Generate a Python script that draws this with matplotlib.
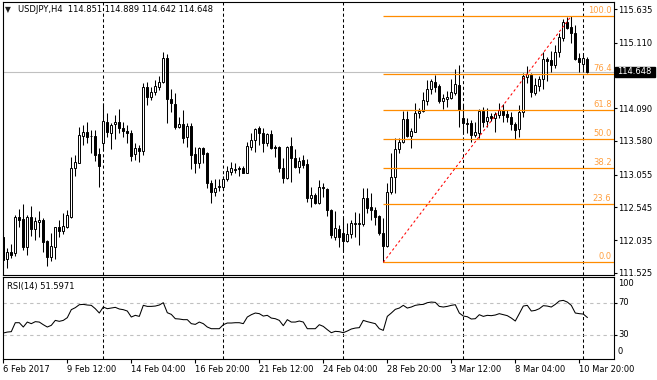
"""USDJPY H4 candles with a Fibonacci retracement and RSI(14) sub-window,
drawn in the MetaTrader 4 look."""
import matplotlib
matplotlib.use("Agg")
import matplotlib.pyplot as plt
from matplotlib.patches import Rectangle

W, H = 657, 380

# --- data (one entry per H4 bar, 6 Feb 20:00 .. 13 Mar 04:00) ---
opens = [
    112.090, 111.743, 111.847, 111.831, 112.392, 112.365, 111.934, 112.392, 112.205, 112.323,
    112.350, 112.023, 111.769, 111.934, 112.236, 112.183, 112.245, 112.401, 113.155, 113.242,
    113.662, 113.715, 113.662, 113.658, 113.377, 113.544, 113.880, 113.709, 113.840, 113.880,
    113.777, 113.735, 113.700, 113.373, 113.466, 113.424, 114.416, 114.260, 114.347, 114.425,
    114.503, 114.867, 114.229, 114.156, 113.802, 113.844, 113.637, 113.813, 113.377, 113.242,
    113.466, 113.388, 112.931, 112.790, 112.859, 112.868, 112.983, 113.102, 113.133, 113.164,
    113.164, 113.086, 113.491, 113.595, 113.777, 113.709, 113.544, 113.689, 113.486, 113.482,
    113.155, 112.999, 113.502, 113.310, 113.180, 113.284, 113.217, 112.697, 112.739, 112.610,
    112.868, 112.828, 112.505, 112.090, 112.210, 112.143, 112.028, 112.127, 112.288, 112.292,
    112.283, 112.697, 112.557, 112.505, 112.417, 112.143, 111.950, 112.781, 113.024, 113.455,
    113.560, 113.922, 113.662, 113.725, 114.011, 114.047, 114.207, 114.389, 114.503, 114.436,
    114.203, 114.238, 114.254, 114.322, 114.452, 113.933, 113.860, 113.855, 113.673, 113.700,
    114.047, 113.891, 113.969, 113.933, 113.985, 114.062, 113.995, 113.958, 113.840, 113.767,
    114.027, 114.581, 114.607, 114.322, 114.441, 114.545, 114.856, 114.841, 114.763, 114.961,
    115.188, 115.428, 115.359, 115.257, 114.877, 114.774, 114.851,
]
highs = [
    112.168, 111.909, 111.976, 112.428, 112.516, 112.599, 112.428, 112.568, 112.401, 112.495,
    112.376, 112.038, 112.152, 112.245, 112.350, 112.454, 112.505, 113.326, 113.362, 113.802,
    113.829, 113.880, 113.751, 113.751, 113.466, 114.176, 114.020, 113.855, 113.985, 114.073,
    113.880, 113.829, 113.751, 113.553, 113.517, 114.487, 114.503, 114.425, 114.529, 114.592,
    114.970, 114.934, 114.385, 114.322, 113.949, 114.062, 113.855, 113.855, 113.491, 113.491,
    113.491, 113.413, 112.973, 112.983, 112.983, 113.035, 113.191, 113.257, 113.233, 113.191,
    113.191, 113.569, 113.709, 113.777, 113.813, 113.777, 113.700, 113.751, 113.517, 113.502,
    113.310, 113.502, 113.647, 113.451, 113.335, 113.362, 113.299, 112.868, 112.766, 112.973,
    112.921, 112.843, 112.521, 112.490, 112.272, 112.376, 112.298, 112.350, 112.479, 112.454,
    112.853, 112.843, 112.766, 112.557, 112.428, 112.376, 112.921, 113.388, 113.622, 113.631,
    114.047, 114.047, 113.777, 114.167, 114.089, 114.338, 114.529, 114.545, 114.607, 114.463,
    114.307, 114.358, 114.545, 114.701, 114.763, 114.140, 113.933, 113.907, 113.880, 114.078,
    114.114, 114.089, 114.011, 114.036, 114.167, 114.151, 114.062, 114.027, 113.880, 114.140,
    114.634, 114.752, 114.634, 114.565, 114.596, 114.961, 114.892, 114.981, 115.074, 115.257,
    115.479, 115.510, 115.526, 115.386, 114.945, 114.919, 114.889,
]
lows = [
    111.623, 111.598, 111.763, 111.789, 112.245, 111.883, 111.805, 112.101, 112.038, 112.090,
    111.856, 111.638, 111.716, 111.738, 112.090, 112.132, 112.221, 112.381, 113.040, 113.233,
    113.517, 113.544, 113.388, 113.273, 112.868, 113.440, 113.647, 113.451, 113.611, 113.700,
    113.647, 113.553, 113.273, 113.284, 113.257, 113.362, 114.140, 114.218, 114.296, 114.374,
    114.487, 113.865, 114.036, 113.762, 113.777, 113.553, 113.482, 113.139, 113.086, 113.155,
    113.233, 112.843, 112.619, 112.723, 112.806, 112.817, 112.962, 113.050, 113.086, 113.035,
    113.077, 113.077, 113.440, 113.413, 113.517, 113.413, 113.502, 113.451, 113.335, 113.102,
    112.921, 112.983, 112.946, 113.155, 113.077, 113.155, 112.635, 112.557, 112.594, 112.594,
    112.713, 112.417, 112.065, 112.038, 111.934, 111.872, 112.003, 112.065, 112.090, 111.961,
    112.261, 112.454, 112.350, 112.272, 112.116, 111.691, 111.937, 112.750, 112.766, 113.388,
    113.544, 113.647, 113.475, 113.715, 113.933, 114.027, 114.140, 114.307, 114.347, 114.167,
    114.078, 114.114, 114.234, 114.296, 113.802, 113.725, 113.700, 113.560, 113.647, 113.622,
    113.802, 113.802, 113.891, 113.725, 113.933, 113.880, 113.880, 113.751, 113.611, 113.647,
    113.958, 114.478, 114.269, 114.296, 114.358, 114.389, 114.514, 114.659, 114.712, 114.892,
    115.137, 115.323, 115.101, 114.841, 114.659, 114.659, 114.642,
]
closes = [
    111.727, 111.847, 111.810, 112.401, 112.350, 111.934, 112.401, 112.205, 112.334, 112.350,
    112.012, 111.769, 111.945, 112.236, 112.179, 112.256, 112.428, 113.155, 113.248, 113.673,
    113.715, 113.647, 113.653, 113.362, 113.195, 113.891, 113.725, 113.829, 113.871, 113.777,
    113.740, 113.700, 113.351, 113.466, 113.424, 114.416, 114.260, 114.347, 114.436, 114.503,
    114.867, 114.229, 114.167, 113.793, 113.844, 113.631, 113.813, 113.362, 113.242, 113.466,
    113.377, 112.931, 112.790, 112.843, 112.874, 112.983, 113.113, 113.155, 113.144, 113.139,
    113.086, 113.502, 113.595, 113.762, 113.700, 113.553, 113.689, 113.466, 113.471, 113.155,
    112.999, 113.482, 113.310, 113.180, 113.268, 113.206, 112.697, 112.739, 112.610, 112.868,
    112.843, 112.505, 112.116, 112.221, 112.090, 112.028, 112.127, 112.298, 112.303, 112.303,
    112.697, 112.541, 112.505, 112.401, 112.143, 111.950, 112.781, 113.024, 113.455, 113.569,
    113.922, 113.662, 113.735, 114.011, 114.047, 114.218, 114.389, 114.514, 114.425, 114.203,
    114.245, 114.265, 114.338, 114.463, 114.062, 113.855, 113.849, 113.673, 113.725, 114.047,
    113.880, 113.958, 113.933, 113.995, 114.062, 113.985, 113.958, 113.840, 113.751, 114.027,
    114.596, 114.618, 114.338, 114.452, 114.545, 114.856, 114.825, 114.763, 114.970, 115.204,
    115.428, 115.344, 115.257, 114.856, 114.805, 114.867, 114.648,
]
rsi = [
    32.1, 33.3, 33.8, 45.0, 45.0, 39.6, 45.8, 43.8, 46.3, 45.8,
    42.5, 39.6, 41.7, 47.9, 46.7, 47.9, 51.3, 61.3, 63.8, 67.5,
    67.9, 67.1, 66.7, 62.5, 57.1, 64.6, 62.5, 63.3, 64.2, 62.1,
    61.3, 59.6, 52.1, 54.2, 52.9, 66.7, 65.4, 65.4, 65.8, 67.1,
    70.0, 57.5, 55.4, 50.0, 49.6, 48.8, 48.8, 43.8, 42.9, 45.8,
    43.8, 39.6, 37.5, 37.5, 37.5, 42.5, 44.6, 44.6, 45.0, 45.0,
    43.8, 52.1, 55.0, 57.1, 56.3, 53.3, 54.2, 50.8, 50.0, 47.9,
    41.3, 48.8, 45.8, 45.8, 47.1, 45.8, 37.5, 37.5, 37.5, 42.5,
    40.4, 36.3, 32.5, 34.2, 33.8, 32.5, 34.6, 37.1, 38.3, 38.8,
    47.9, 46.3, 45.0, 43.8, 37.5, 35.4, 52.9, 57.1, 61.7, 63.3,
    66.7, 63.3, 64.6, 66.7, 67.5, 67.9, 70.0, 70.8, 70.4, 65.4,
    64.6, 65.4, 66.7, 67.5, 57.1, 53.3, 52.5, 49.6, 50.0, 55.0,
    52.9, 54.2, 53.8, 54.6, 56.3, 55.0, 53.8, 50.8, 47.1, 56.3,
    65.8, 66.7, 59.6, 60.4, 62.5, 66.3, 65.8, 64.6, 67.9, 72.1,
    72.9, 70.8, 66.7, 57.1, 56.3, 55.8, 51.5971,
]

date_ticks = [0, 16, 32, 48, 64, 80, 96, 112, 128, 144]
date_labels = ["6 Feb 2017", "9 Feb 12:00", "14 Feb 04:00", "16 Feb 20:00", "21 Feb 12:00",
               "24 Feb 04:00", "28 Feb 20:00", "3 Mar 12:00", "8 Mar 04:00", "10 Mar 20:00"]
week_separators = [25, 55, 85, 115, 145]
price_ticks = [111.525, 112.035, 112.545, 113.055, 113.580, 114.090, 115.110, 115.635]
rsi_levels = [30, 70]
rsi_labels = ["100", "70", "30", "0"]

fib_low_bar, fib_low = 95, 111.691
fib_high_bar, fib_high = 142, 115.526
fib_levels = [0.0, 23.6, 38.2, 50.0, 61.8, 76.4, 100.0]

header = "USDJPY,H4  114.851 114.889 114.642 114.648"
last_price = 114.648

# --- screen calibration (pixels) ---
BAR0_PX, PX_PER_BAR = 3.3, 4.0
PRICE_REF, PRICE_REF_PX, PX_PER_YEN = 115.635, 9.0, 64.23
RSI_REF_PX, PX_PER_RSI = 302.7, 0.8          # RSI 70 sits at y=302.7
LEFT, RIGHT = 2.5, 614.0
MAIN_TOP, MAIN_BOT = 2.0, 274.5
RSI_TOP, RSI_BOT = 277.0, 359.0

FS = 6.0
ORANGE = "#FF8C00"
FIB_TXT = "#FFA040"
GREY = "#C0C0C0"


def rect(x0, y0, x1, y1):
    return [x0 / W, 1 - y1 / H, (x1 - x0) / W, (y1 - y0) / H]


def px_bar(p):
    return (p - BAR0_PX) / PX_PER_BAR


def px_price(p):
    return PRICE_REF - (p - PRICE_REF_PX) / PX_PER_YEN


def px_rsi(p):
    return 70 - (p - RSI_REF_PX) / PX_PER_RSI


plt.rcParams["font.family"] = ["DejaVu Sans"]
fig = plt.figure(figsize=(W / 100, H / 100), dpi=100, facecolor="white")
ax = fig.add_axes(rect(LEFT, MAIN_TOP, RIGHT, MAIN_BOT))
rax = fig.add_axes(rect(LEFT, RSI_TOP, RIGHT, RSI_BOT))

for a in (ax, rax):
    for s in a.spines.values():
        s.set_linewidth(0.8)
        s.set_color("black")
    a.set_xlim(px_bar(LEFT), px_bar(RIGHT))
    for b in week_separators:
        a.axvline(b, color="black", lw=0.75, ls=(0, (3.0, 2.4)), zorder=1)

ax.set_ylim(px_price(MAIN_BOT), px_price(MAIN_TOP))
rax.set_ylim(px_rsi(RSI_BOT), px_rsi(RSI_TOP))

# candles
xs = list(range(len(opens)))
ax.vlines(xs, lows, highs, color="black", lw=0.75, zorder=2)
bottoms = [min(o, c) for o, c in zip(opens, closes)]
heights = [abs(c - o) for o, c in zip(opens, closes)]
faces = ["white" if c >= o else "black" for o, c in zip(opens, closes)]
ax.bar(xs, heights, bottom=bottoms, width=0.5, color=faces, edgecolor="black",
       linewidth=0.7, zorder=3)

# bid line
ax.axhline(last_price, color=GREY, lw=0.8, zorder=1)

# fibonacci retracement
x_end = px_bar(RIGHT)
for lev in fib_levels:
    p = fib_low + (fib_high - fib_low) * lev / 100
    ax.hlines(p, fib_low_bar, x_end, color=ORANGE, lw=0.9, zorder=4)
    ax.annotate(f"{lev:.1f}", (px_bar(611.5), p), xytext=(0, 2.2), textcoords="offset points",
                ha="right", va="baseline", fontsize=FS, color=FIB_TXT, zorder=5)
ax.plot([fib_low_bar, fib_high_bar], [fib_low, fib_high], color="red", lw=0.75,
        ls=(0, (2.4, 2.4)), zorder=4)

# price axis
ax.tick_params(axis="x", bottom=False, labelbottom=False)
ax.yaxis.tick_right()
ax.set_yticks(price_ticks)
ax.set_yticklabels([f"{p:.3f}" for p in price_ticks])
ax.tick_params(axis="y", direction="out", length=2.2, width=0.8, pad=1.0, labelsize=FS)

fig.patches.append(Rectangle((615 / W, 1 - 76.5 / H), 40 / W, 10 / H,
                             transform=fig.transFigure, color="black", zorder=10))
fig.text(617.5 / W, 1 - 71.6 / H, f"{last_price:.3f}", color="white", fontsize=FS,
         ha="left", va="center", zorder=11)

fig.text(5 / W, 1 - 10 / H, "\u25bc", fontsize=5.5, ha="left", va="center",
         color="#202020")
fig.text(18 / W, 1 - 10 / H, header, fontsize=FS, ha="left", va="center")

# RSI window
rax.plot(xs, rsi, color="black", lw=0.75, zorder=3)
for lv in rsi_levels:
    rax.axhline(lv, color=GREY, lw=0.8, ls=(0, (3.0, 3.0)), zorder=1)
rax.yaxis.tick_right()
rax.set_yticks(rsi_levels)
rax.set_yticklabels([])
rax.tick_params(axis="y", direction="out", length=2.2, width=0.8)
for lab, ypx in zip(rsi_labels, [284.0, 302.7, 334.7, 352.0]):
    fig.text(618 / W, 1 - ypx / H, lab, fontsize=FS, ha="left", va="center")
fig.text(7 / W, 1 - 286 / H, "RSI(14) 51.5971", fontsize=FS, ha="left", va="center")

rax.set_xticks(date_ticks)
rax.set_xticklabels(date_labels, ha="left")
rax.tick_params(axis="x", direction="out", length=3.0, width=0.8, pad=1.5, labelsize=FS)

fig.savefig("out.png", dpi=100)
plt.close(fig)
